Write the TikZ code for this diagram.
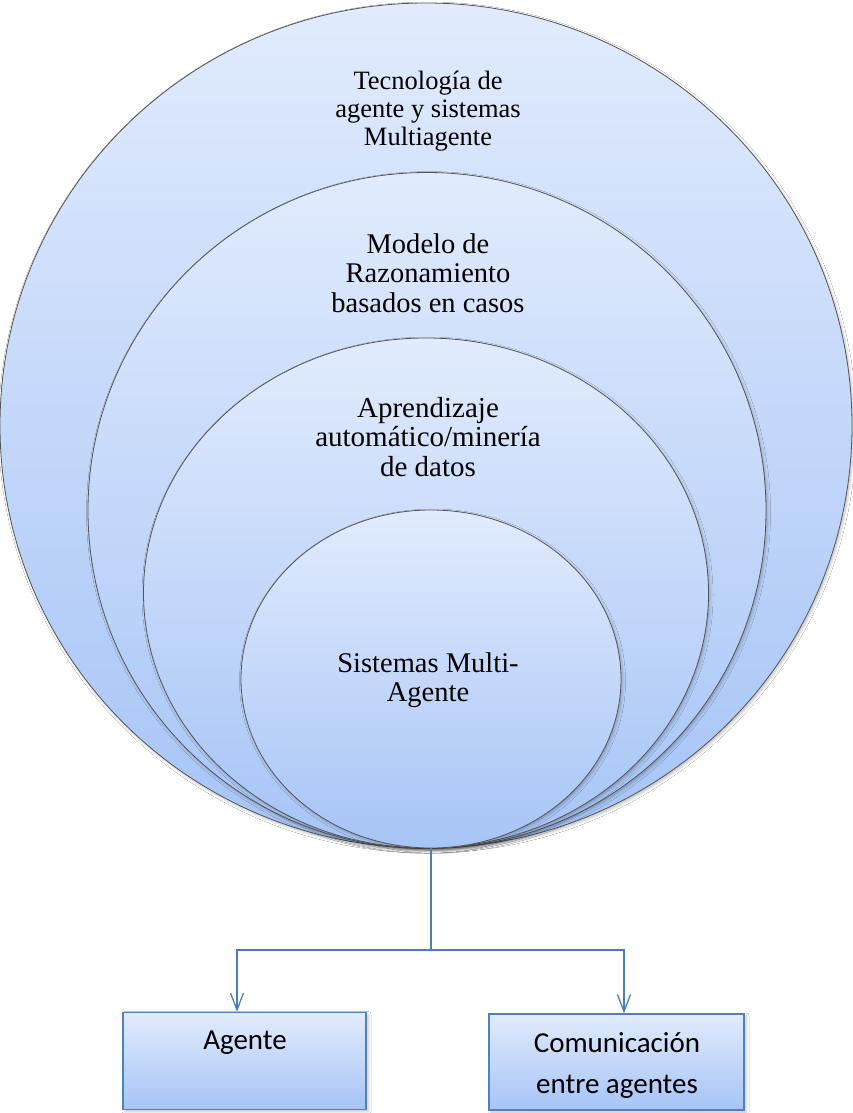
\documentclass[tikz,border=0pt]{standalone}
\usepackage{fontspec}
\setmainfont{Liberation Serif}
\newfontfamily\calibrifont{Carlito}
\usetikzlibrary{shapes.geometric,arrows.meta,shadows.blur}
\definecolor{fillTop}{RGB}{225,235,253}
\definecolor{fillBot}{RGB}{166,196,246}
\definecolor{ringLine}{RGB}{85,85,85}
\definecolor{linkBlue}{RGB}{74,126,187}
\definecolor{boxLine}{RGB}{79,129,189}

\begin{document}
\begin{tikzpicture}[x=1pt,y=-1pt,
  ring/.style={ellipse, draw=ringLine, line width=0.8pt, inner sep=0pt,
    top color=fillTop, bottom color=fillBot,
    blur shadow={shadow xshift=1.5pt, shadow yshift=-2pt, shadow opacity=25, shadow blur radius=3pt}},
  ringtext/.style={align=center, inner sep=0pt, text=black},
  blockbox/.style={rectangle, draw=boxLine, line width=1.4pt, inner sep=0pt,
    top color=fillTop, bottom color=fillBot,
    blur shadow={shadow xshift=2pt, shadow yshift=-2pt, shadow opacity=25, shadow blur radius=3pt}},
  boxtext/.style={align=center, inner sep=0pt, text=black,
    font=\calibrifont\fontsize{29}{41}\selectfont},
  link/.style={draw=linkBlue, line width=1.3pt},
  linkarrow/.style={link, -{Straight Barb[length=17pt, width=13pt, line width=1.3pt]}}]

\fill[white] (0,0) rectangle (853,1113);
\useasboundingbox (0,0) rectangle (853,1113);

% nested rings, largest first
\node[ring, minimum width=852pt, minimum height=845pt] (outer) at (426,425.5) {};
\node[ring, minimum width=678pt, minimum height=676pt] (second) at (427,510.5) {};
\node[ring, minimum width=565pt, minimum height=510pt] (third) at (426,593) {};
\node[ring, minimum width=380pt, minimum height=338pt] (inner) at (431,679) {};

% ring captions
\node[ringtext, font=\fontsize{26.5}{28}\selectfont] (capOuter) at (428,111)
  {Tecnología de\\agente y sistemas\\Multiagente};
\node[ringtext, font=\fontsize{28.5}{29.5}\selectfont] (capSecond) at (428,273)
  {Modelo de\\Razonamiento\\basados en casos};
\node[ringtext, font=\fontsize{29}{29.5}\selectfont] (capThird) at (428,437)
  {Aprendizaje\\automático/minería\\de datos};
\node[ringtext, font=\fontsize{28.5}{29.5}\selectfont] (capInner) at (428,680)
  {Sistemas Multi-\\Agente};

% lower boxes
\node[blockbox, minimum width=243pt, minimum height=97pt] (agente) at (244.5,1061) {};
\node[blockbox, minimum width=255pt, minimum height=96pt] (comunic) at (616.5,1062) {};
\node[boxtext] (agenteText) at (245,1043) {Agente};
\node[boxtext] (comunicText) at (617,1066) {Comunicación\\entre agentes};

% branching connector
\coordinate (split) at (inner.south |- 0,950);
\draw[link] (inner.south) -- (split);
\draw[linkarrow] (split) -| ([xshift=-7.5pt]agente.north);
\draw[linkarrow] (split) -| ([xshift=7.5pt]comunic.north);
\end{tikzpicture}
\end{document}
